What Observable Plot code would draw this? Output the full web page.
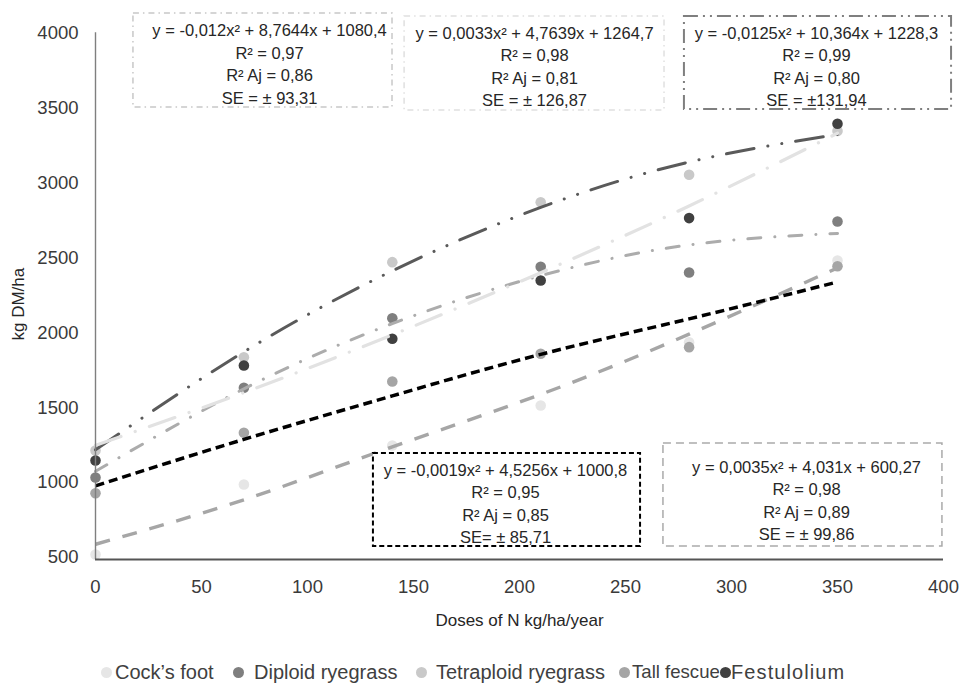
<!DOCTYPE html>
<html><head><meta charset="utf-8">
<script src="https://cdn.jsdelivr.net/npm/d3@7"></script>
<script src="https://cdn.jsdelivr.net/npm/@observablehq/plot@0.6"></script>
<style>
body{margin:0;background:#fff;font-family:"Liberation Sans",Arial,sans-serif;}
#wrap{position:relative;width:961px;height:683px;overflow:hidden;}
#legend{position:absolute;top:658px;left:0;width:961px;height:28px;}
.item{position:absolute;top:0;color:#404040;white-space:nowrap;line-height:28px;}
.sw{position:absolute;width:11px;height:11px;border-radius:50%;top:8.5px;}
</style></head><body>
<div id="wrap"><div id="chart"></div><div id="legend"></div></div>
<script>
// ---- data ----
const doses = [0, 70, 140, 210, 280, 350];
const seriesNames = ["Cock’s foot", "Diploid ryegrass", "Tetraploid ryegrass", "Tall fescue", "Festulolium"];
const seriesColors = ["#e6e6e6", "#7f7f7f", "#c9c9c9", "#a5a5a5", "#404040"];
const cocksFoot   = [520, 987, 1247, 1514, 1936, 2481];
const diploid     = [1034, 1632, 2096, 2439, 2401, 2741];
const tetraploid  = [1214, 1836, 2470, 2870, 3053, 3345];
const tallFescue  = [929, 1332, 1674, 1859, 1903, 2443];
const festulolium = [1147, 1781, 1959, 2348, 2764, 3393];
// fitted trend lines at each dose
const trendCocksFoot   = [588, 885, 1238, 1588, 1990, 2432];
const trendDiploid     = [1075, 1625, 2060, 2380, 2585, 2662];
const trendTetraploid  = [1218, 1872, 2412, 2835, 3138, 3322];
const trendTallFescue  = [978, 1288, 1578, 1855, 2092, 2338];
const trendFestulolium = [1248, 1600, 1985, 2400, 2845, 3330];
const xTicks = [0, 50, 100, 150, 200, 250, 300, 350, 400];
const yTicks = [500, 1000, 1500, 2000, 2500, 3000, 3500, 4000];
const equationTexts = [
  "y = -0,012x² + 8,7644x + 1080,4\nR² = 0,97\nR² Aj = 0,86\nSE = ± 93,31",
  "y = 0,0033x² + 4,7639x + 1264,7\nR² = 0,98\nR² Aj = 0,81\nSE = ± 126,87",
  "y = -0,0125x² + 10,364x + 1228,3\nR² = 0,99\nR² Aj = 0,80\nSE = ±131,94",
  "y = -0,0019x² + 4,5256x + 1000,8\nR² = 0,95\nR² Aj = 0,85\nSE= ± 85,71",
  "y = 0,0035x² + 4,031x + 600,27\nR² = 0,98\nR² Aj = 0,89\nSE = ± 99,86"
];

// ---- layout / styles ----
const seriesValues = [cocksFoot, diploid, tetraploid, tallFescue, festulolium];
const points = [];
seriesNames.forEach((s, i) => doses.forEach((d, j) => points.push({series: s, dose: d, value: seriesValues[i][j]})));

const trendStyles = [
  {vals: trendCocksFoot,   stroke: "#a6a6a6", width: 3.4, dash: "15,13", cap: "butt"},
  {vals: trendDiploid,     stroke: "#acacac", width: 3,   dash: "13,14,0.1,14", cap: "round"},
  {vals: trendTetraploid,  stroke: "#5a5a5a", width: 3,   dash: "28,14,0.1,14,0.1,14", cap: "round"},
  {vals: trendTallFescue,  stroke: "#000000", width: 3.5, dash: "9,5", cap: "butt"},
  {vals: trendFestulolium, stroke: "#e2e2e2", width: 3.2, dash: "27,15,0.1,15", cap: "round"}
];

// annotation boxes in data units
const boxes = [
  {x1: 17.9, x2: 140.1, y1: 3502, y2: 4129, tx: 82.1, ty: 3799, stroke: "#c8c8c8", sw: 1.5, dash: "6,4,1.5,4"},
  {x1: 145.8, x2: 268.4, y1: 3482, y2: 4109, tx: 207.1, ty: 3782, stroke: "#e0e0e0", sw: 1.5, dash: "6,4,1.5,4"},
  {x1: 277.8, x2: 403.8, y1: 3489, y2: 4109, tx: 340.1, ty: 3782, stroke: "#7f7f7f", sw: 2, dash: "14,5,2,5,2,5"},
  {x1: 131.1, x2: 257.1, y1: 573, y2: 1194, tx: 193.4, ty: 867, stroke: "#000000", sw: 2, dash: "5,3"},
  {x1: 267.9, x2: 399.5, y1: 573, y2: 1260, tx: 335.4, ty: 887, stroke: "#aaaaaa", sw: 1.5, dash: "8,5"}
].map((b, i) => ({...b, text: equationTexts[i]}));

const marks = [];
marks.push(Plot.dot(points, {x: "dose", y: "value", r: 5.3, fill: "series"}));
trendStyles.forEach(t => {
  marks.push(Plot.line(doses.map((d, j) => ({dose: d, value: t.vals[j]})), {
    x: "dose", y: "value", curve: "natural", stroke: t.stroke, strokeWidth: t.width,
    strokeDasharray: t.dash, strokeLinecap: t.cap
  }));
});
boxes.forEach(b => {
  marks.push(Plot.rect([b], {x1: "x1", x2: "x2", y1: "y1", y2: "y2", fill: "white",
    stroke: b.stroke, strokeWidth: b.sw, strokeDasharray: b.dash}));
});
marks.push(Plot.text(boxes, {x: "tx", y: "ty", text: "text", fontSize: 16.5, lineHeight: 1.36,
  lineAnchor: "middle", textAnchor: "middle", fill: "#262626"}));
marks.push(Plot.ruleX([0], {stroke: "#7f7f7f", strokeWidth: 1.4, insetBottom: -2}));
marks.push(Plot.ruleY([500], {x1: 0, x2: 400, dy: 2, stroke: "#555555", strokeWidth: 1.8}));
marks.push(Plot.axisX(xTicks, {tickSize: 0, tickPadding: 22, fontSize: 18.5, fill: "#3a3a3a", label: null, tickFormat: d => String(d)}));
marks.push(Plot.axisY(yTicks, {tickSize: 0, tickPadding: 17, fontSize: 18.5, fill: "#3a3a3a", label: null, tickFormat: d => String(d)}));
marks.push(Plot.text(["Doses of N kg/ha/year"], {frameAnchor: "bottom", dy: 68, fontSize: 17, fill: "#262626"}));
marks.push(Plot.text(["kg DM/ha"], {x: () => 0, y: () => 2190, dx: -77, rotate: -90, fontSize: 17, fill: "#262626"}));

const chart = Plot.plot({
  width: 961, height: 645,
  marginLeft: 95, marginRight: 18, marginTop: 32.3, marginBottom: 88,
  x: {domain: [0, 400]},
  y: {domain: [500, 4000]},
  color: {domain: seriesNames, range: seriesColors},
  style: {fontFamily: "'Liberation Sans', Arial, sans-serif", background: "white", overflow: "visible"},
  marks
});
document.getElementById("chart").appendChild(chart);

// legend
const legendMarker = [106, 238, 421, 624, 725];
const legendText = [115, 254, 436, 632, 731];
const legendSize = [20, 20, 20, 18.6, 20];
const legendSpacing = [0, 0, 0, 0, 1.1];
const legend = document.getElementById("legend");
seriesNames.forEach((s, i) => {
  const sw = document.createElement("span");
  sw.className = "sw";
  sw.style.background = seriesColors[i];
  sw.style.left = (legendMarker[i] - 5.5) + "px";
  legend.appendChild(sw);
  const it = document.createElement("div");
  it.className = "item";
  it.style.left = legendText[i] + "px";
  it.style.fontSize = legendSize[i] + "px";
  it.style.letterSpacing = legendSpacing[i] + "px";
  it.textContent = s;
  legend.appendChild(it);
});
</script>
</body></html>
